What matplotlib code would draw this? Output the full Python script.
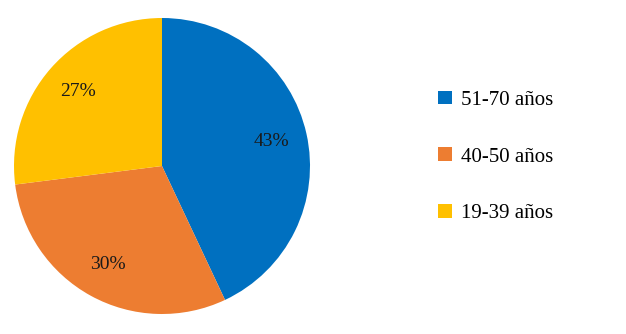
import matplotlib.pyplot as plt
from matplotlib.patches import Patch

# -----------------------------
# data
# -----------------------------
labels = ["51-70 años", "40-50 años", "19-39 años"]
values = [43, 30, 27]
colors = ["#0070C0", "#ED7D31", "#FFC000"]

plt.rcParams["font.family"] = ["Liberation Serif", "DejaVu Serif"]

fig = plt.figure(figsize=(6.26, 3.34), dpi=100)

# pie axes placed by pixel (centre ~ (162,166), radius ~148)
W, H = 626, 334
cx, cy, r = 162, 334 - 166, 148
ax = fig.add_axes([(cx - r) / W, (cy - r) / H, 2 * r / W, 2 * r / H])

wedges, texts, autotexts = ax.pie(
    values, colors=colors, startangle=90, counterclock=False,
    autopct="%d%%", pctdistance=0.76, radius=1.0,
    textprops={"fontsize": 14, "color": "#1a1a1a"},
)
ax.set_xlim(-1, 1)
ax.set_ylim(-1, 1)
ax.set_aspect("equal")

handles = [Patch(facecolor=c, edgecolor="none") for c in colors]
fig.legend(handles, labels, loc="center left", bbox_to_anchor=(0.67, 0.53),
           frameon=False, fontsize=15, labelspacing=1.8,
           handlelength=0.65, handleheight=0.65, handletextpad=0.45)

fig.savefig("out.png", dpi=100, facecolor="white")
